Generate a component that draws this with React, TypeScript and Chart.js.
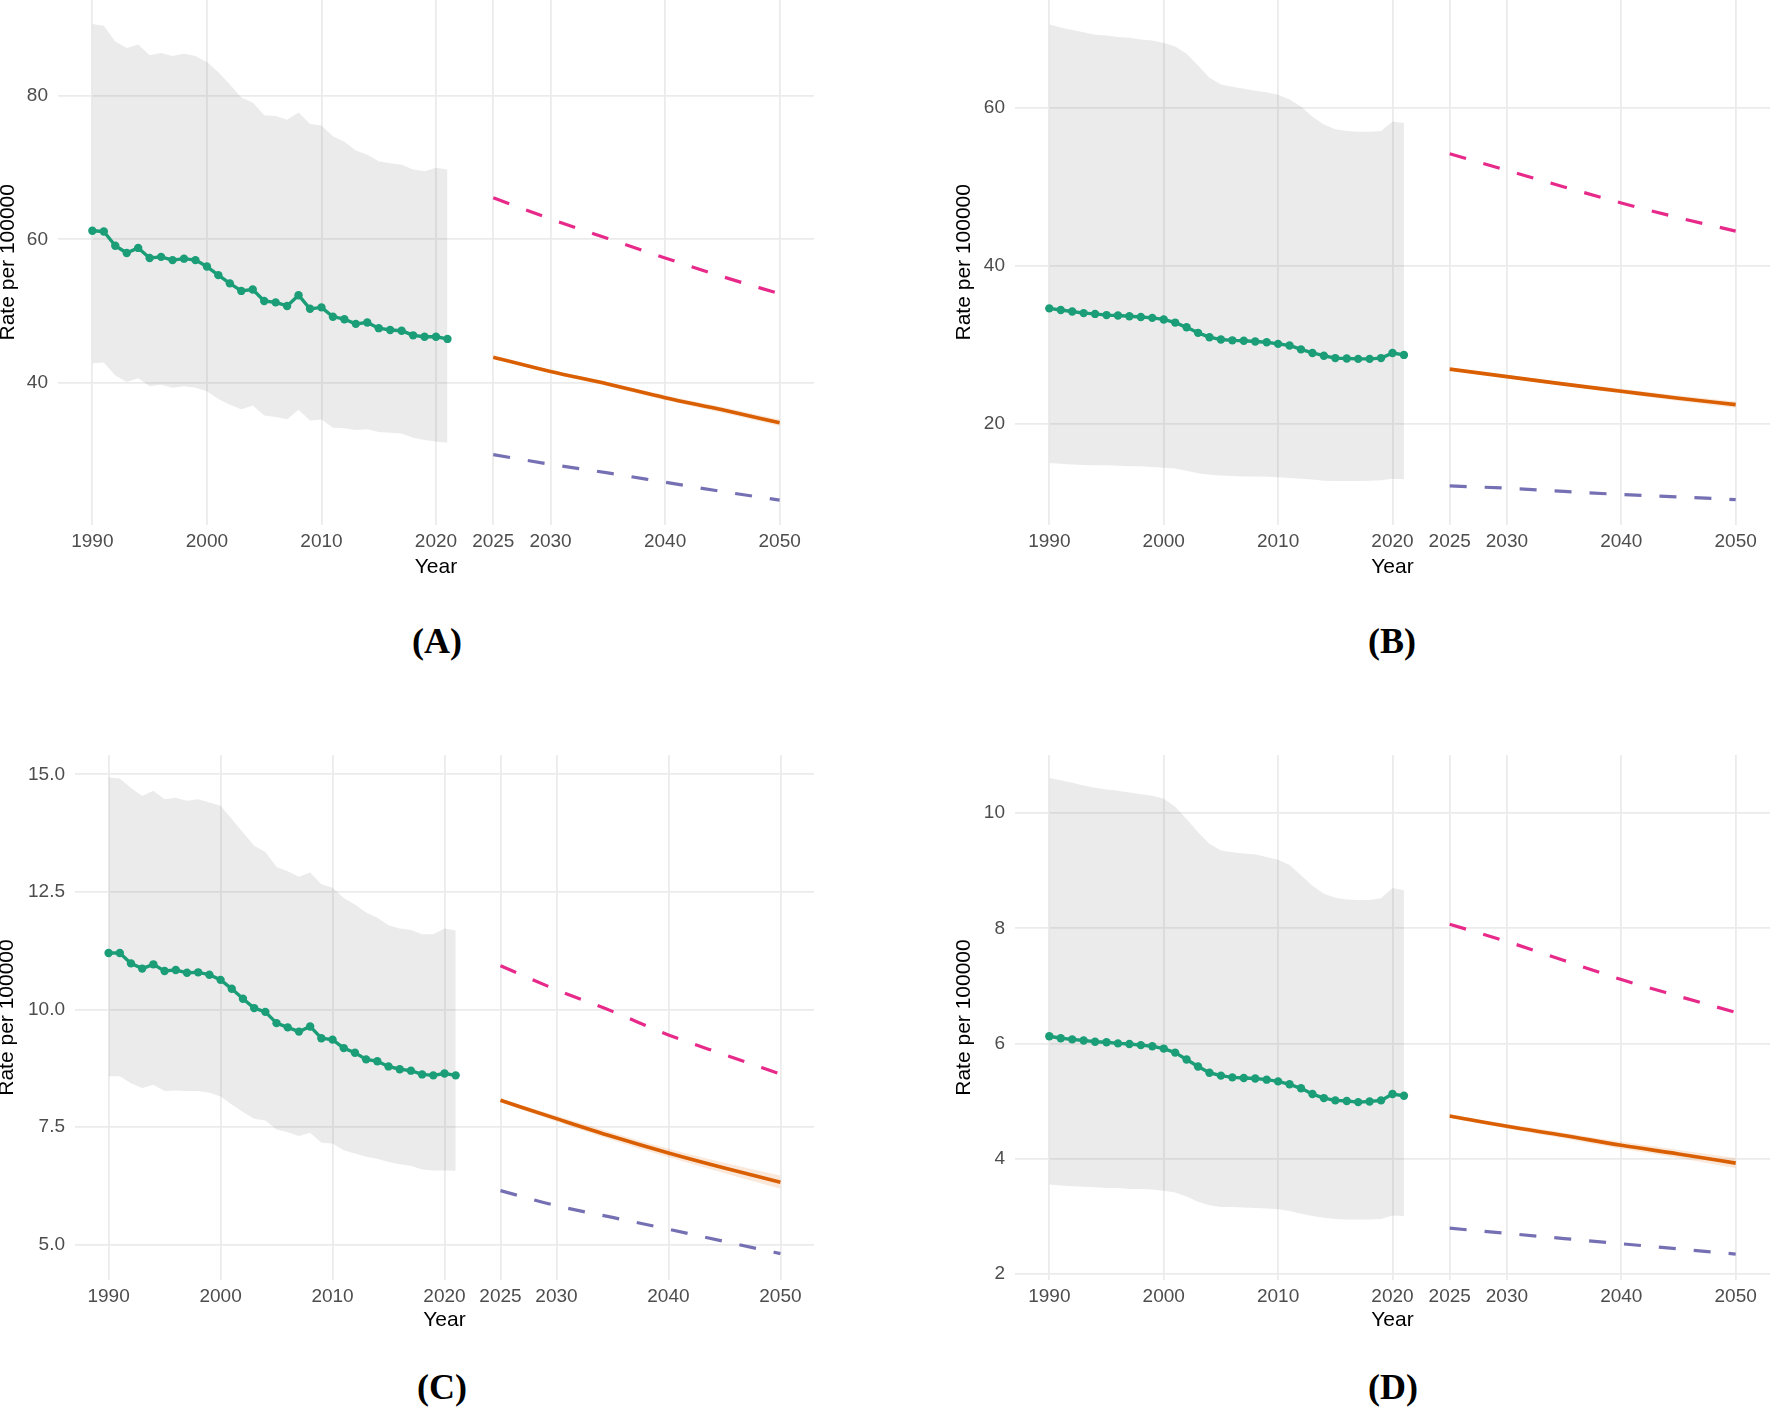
import React, { useEffect, useRef } from 'react';
import { Chart, registerables } from 'chart.js';

Chart.register(...registerables);

// ---------- shared categories ----------
const histYears = [1990, 1991, 1992, 1993, 1994, 1995, 1996, 1997, 1998, 1999, 2000, 2001, 2002, 2003, 2004, 2005, 2006, 2007, 2008, 2009, 2010, 2011, 2012, 2013, 2014, 2015, 2016, 2017, 2018, 2019, 2020, 2021];
const projYears = [2025, 2030, 2035, 2040, 2045, 2050];
const xTickYears = [1990, 2000, 2010, 2020, 2025, 2030, 2040, 2050];

// ---------- panel A ----------
const aRate = [61.2, 61.1, 59.1, 58.1, 58.8, 57.4, 57.55, 57.1, 57.3, 57.1, 56.2, 55.0, 53.85, 52.8, 53.0, 51.4, 51.2, 50.7, 52.2, 50.3, 50.5, 49.2, 48.85, 48.2, 48.4, 47.6, 47.35, 47.25, 46.6, 46.4, 46.4, 46.1];
const aUpper = [90.05, 89.8, 87.6, 86.7, 87.2, 85.7, 86.0, 85.6, 85.9, 85.6, 84.75, 83.3, 81.6, 79.8, 79.1, 77.3, 77.2, 76.7, 77.7, 76.1, 75.9, 74.4, 73.6, 72.4, 71.8, 70.9, 70.6, 70.4, 69.75, 69.5, 70.0, 69.75];
const aLower = [42.7, 42.8, 41.0, 40.1, 40.6, 39.5, 39.7, 39.3, 39.5, 39.3, 38.8, 37.7, 36.9, 36.3, 36.8, 35.4, 35.2, 34.9, 36.2, 34.7, 34.85, 33.7, 33.65, 33.4, 33.5, 33.1, 33.0, 32.9, 32.3, 32.0, 31.8, 31.6];
const aProj = [43.55, 41.55, 39.8, 37.9, 36.2, 34.4];
const aProjLo = [43.45, 41.35, 39.5, 37.55, 35.8, 33.95];
const aProjHi = [43.65, 41.75, 40.1, 38.25, 36.6, 34.85];
const aHigh = [65.8, 62.85, 60.1, 57.4, 54.8, 52.4];
const aLow = [29.95, 28.6, 27.4, 26.1, 24.8, 23.6];
const aYTicks = [40, 60, 80];

// ---------- panel B ----------
const bRate = [34.6, 34.4, 34.2, 34.0, 33.9, 33.75, 33.7, 33.6, 33.5, 33.4, 33.2, 32.8, 32.2, 31.5, 30.95, 30.65, 30.55, 30.5, 30.4, 30.3, 30.1, 29.9, 29.4, 28.95, 28.6, 28.3, 28.25, 28.2, 28.2, 28.3, 28.95, 28.7];
const bUpper = [70.6, 70.2, 69.9, 69.6, 69.3, 69.2, 69.0, 68.9, 68.7, 68.55, 68.25, 67.8, 66.9, 65.4, 63.85, 63.0, 62.7, 62.45, 62.2, 62.0, 61.7, 61.1, 60.2, 58.9, 57.9, 57.3, 57.1, 57.0, 57.0, 57.1, 58.3, 58.1];
const bLower = [15.0, 14.9, 14.8, 14.75, 14.7, 14.7, 14.65, 14.6, 14.6, 14.5, 14.4, 14.3, 14.0, 13.7, 13.5, 13.4, 13.35, 13.3, 13.3, 13.25, 13.2, 13.1, 13.0, 12.9, 12.75, 12.7, 12.7, 12.7, 12.75, 12.8, 13.0, 12.95];
const bProj = [26.9, 25.95, 25.0, 24.1, 23.2, 22.4];
const bProjLo = [26.8, 25.75, 24.75, 23.8, 22.85, 22.0];
const bProjHi = [27.0, 26.15, 25.25, 24.4, 23.55, 22.8];
const bHigh = [54.2, 52.1, 50.0, 47.97, 46.1, 44.4];
const bLow = [12.1, 11.8, 11.4, 11.0, 10.7, 10.35];
const bYTicks = [20, 40, 60];

// ---------- panel C ----------
const cRate = [11.2, 11.2, 10.98, 10.87, 10.96, 10.82, 10.84, 10.78, 10.79, 10.74, 10.63, 10.44, 10.23, 10.03, 9.95, 9.71, 9.62, 9.53, 9.64, 9.39, 9.36, 9.18, 9.08, 8.94, 8.9, 8.79, 8.73, 8.7, 8.62, 8.6, 8.64, 8.6];
const cUpper = [14.93, 14.91, 14.71, 14.54, 14.65, 14.47, 14.5, 14.44, 14.47, 14.4, 14.33, 14.05, 13.76, 13.48, 13.35, 13.03, 12.94, 12.82, 12.91, 12.66, 12.59, 12.37, 12.23, 12.06, 11.95, 11.79, 11.72, 11.69, 11.6, 11.6, 11.72, 11.68];
const cLower = [8.58, 8.58, 8.43, 8.33, 8.4, 8.27, 8.28, 8.27, 8.27, 8.23, 8.15, 7.98, 7.82, 7.68, 7.64, 7.45, 7.39, 7.31, 7.38, 7.17, 7.15, 7.01, 6.94, 6.87, 6.83, 6.76, 6.71, 6.68, 6.6, 6.58, 6.58, 6.57];
const cProj = [8.07, 7.68, 7.3, 6.95, 6.63, 6.33];
const cProjLo = [8.03, 7.62, 7.22, 6.86, 6.52, 6.19];
const cProjHi = [8.11, 7.74, 7.38, 7.04, 6.74, 6.47];
const cHigh = [10.93, 10.42, 9.96, 9.46, 9.04, 8.63];
const cLow = [6.15, 5.83, 5.58, 5.33, 5.07, 4.81];
const cYTicks = [5.0, 7.5, 10.0, 12.5, 15.0];

// ---------- panel D ----------
const dRate = [6.125, 6.09, 6.07, 6.05, 6.03, 6.02, 6.0, 5.99, 5.97, 5.95, 5.91, 5.84, 5.72, 5.6, 5.49, 5.44, 5.41, 5.4, 5.39, 5.37, 5.34, 5.29, 5.22, 5.12, 5.05, 5.01, 5.0, 4.98, 4.99, 5.01, 5.12, 5.09];
const dUpper = [10.61, 10.57, 10.53, 10.48, 10.44, 10.41, 10.39, 10.36, 10.33, 10.3, 10.25, 10.11, 9.9, 9.67, 9.47, 9.35, 9.32, 9.3, 9.28, 9.24, 9.19, 9.1, 8.92, 8.74, 8.6, 8.53, 8.5, 8.49, 8.49, 8.52, 8.7, 8.66];
const dLower = [3.55, 3.53, 3.52, 3.51, 3.5, 3.49, 3.49, 3.47, 3.47, 3.46, 3.44, 3.41, 3.34, 3.25, 3.19, 3.16, 3.16, 3.15, 3.14, 3.13, 3.12, 3.09, 3.04, 3.0, 2.97, 2.95, 2.94, 2.94, 2.94, 2.95, 3.01, 3.0];
const dProj = [4.74, 4.56, 4.4, 4.23, 4.08, 3.92];
const dProjLo = [4.71, 4.52, 4.35, 4.17, 4.01, 3.83];
const dProjHi = [4.77, 4.6, 4.45, 4.29, 4.15, 4.01];
const dHigh = [8.07, 7.77, 7.44, 7.11, 6.82, 6.54];
const dLow = [2.79, 2.7, 2.61, 2.52, 2.43, 2.34];
const dYTicks = [2, 4, 6, 8, 10];

const GREEN = '#1B9E77';
const ORANGE = '#D95F02';
const PURPLE = '#7570B3';
const PINK = '#E7298A';
const GRID = '#EBEBEB';
const SANS = '"Liberation Sans", Arial, sans-serif';

type PanelDef = {
  rate: number[]; upper: number[]; lower: number[];
  proj: number[]; projLo: number[]; projHi: number[];
  high: number[]; low: number[];
  yTicks: number[]; yMin: number; yMax: number; decimals: number; label: string;
};

type Geo = {
  left: number; top: number; width: number; height: number;
  yAxisW: number; xAxisH: number; labelX: number; labelY: number;
};

const panels: { def: PanelDef; geo: Geo }[] = [
  {
    def: { rate: aRate, upper: aUpper, lower: aLower, proj: aProj, projLo: aProjLo, projHi: aProjHi, high: aHigh, low: aLow, yTicks: aYTicks, yMin: 20.2, yMax: 93.4, decimals: 0, label: '(A)' },
    geo: { left: -4, top: 0, width: 818, height: 580, yAxisW: 62, xAxisH: 55.5, labelX: 437, labelY: 642 },
  },
  {
    def: { rate: bRate, upper: bUpper, lower: bLower, proj: bProj, projLo: bProjLo, projHi: bProjHi, high: bHigh, low: bLow, yTicks: bYTicks, yMin: 7.2, yMax: 73.7, decimals: 0, label: '(B)' },
    geo: { left: 952, top: 0, width: 818, height: 580, yAxisW: 63, xAxisH: 55.5, labelX: 1392, labelY: 642 },
  },
  {
    def: { rate: cRate, upper: cUpper, lower: cLower, proj: cProj, projLo: cProjLo, projHi: cProjHi, high: cHigh, low: cLow, yTicks: cYTicks, yMin: 4.25, yMax: 15.41, decimals: 1, label: '(C)' },
    geo: { left: -5, top: 755, width: 819, height: 578, yAxisW: 80, xAxisH: 53, labelX: 442, labelY: 1388 },
  },
  {
    def: { rate: dRate, upper: dUpper, lower: dLower, proj: dProj, projLo: dProjLo, projHi: dProjHi, high: dHigh, low: dLow, yTicks: dYTicks, yMin: 1.89, yMax: 11.01, decimals: 0, label: '(D)' },
    geo: { left: 952, top: 755, width: 818, height: 578, yAxisW: 63, xAxisH: 53, labelX: 1393, labelY: 1388 },
  },
];

function pts(xs: number[], ys: number[]) {
  return xs.map((x, i) => ({ x, y: ys[i] }));
}

function Panel({ def, geo }: { def: PanelDef; geo: Geo }) {
  const ref = useRef<HTMLCanvasElement>(null);

  useEffect(() => {
    if (!ref.current) return;
    const dash = [17, 18];
    const chart = new Chart(ref.current, {
      type: 'line',
      data: {
        datasets: [
          {
            data: pts(histYears, def.rate),
            borderColor: GREEN, backgroundColor: GREEN, borderWidth: 3.4,
            pointRadius: 4.2, pointBorderWidth: 0, pointBackgroundColor: GREEN,
            borderJoinStyle: 'round', fill: false,
          },
          {
            data: pts(projYears, def.high),
            borderColor: PINK, borderWidth: 3.2, borderDash: dash, pointRadius: 0,
            cubicInterpolationMode: 'monotone', fill: false,
          },
          {
            data: pts(projYears, def.low),
            borderColor: PURPLE, borderWidth: 3.2, borderDash: dash, pointRadius: 0,
            cubicInterpolationMode: 'monotone', fill: false,
          },
          {
            data: pts(projYears, def.proj),
            borderColor: ORANGE, borderWidth: 3.6, pointRadius: 0,
            cubicInterpolationMode: 'monotone', fill: false,
          },
          {
            data: pts(projYears, def.projHi),
            borderWidth: 0, borderColor: 'rgba(0,0,0,0)', pointRadius: 0,
            cubicInterpolationMode: 'monotone',
            backgroundColor: 'rgba(217,95,2,0.14)', fill: 5,
          },
          {
            data: pts(projYears, def.projLo),
            borderWidth: 0, borderColor: 'rgba(0,0,0,0)', pointRadius: 0,
            cubicInterpolationMode: 'monotone', fill: false,
          },
          {
            data: pts(histYears, def.upper),
            borderWidth: 0, borderColor: 'rgba(0,0,0,0)', pointRadius: 0,
            backgroundColor: 'rgba(128,128,128,0.155)', fill: 7,
          },
          {
            data: pts(histYears, def.lower),
            borderWidth: 0, borderColor: 'rgba(0,0,0,0)', pointRadius: 0, fill: false,
          },
        ],
      },
      options: {
        animation: false,
        responsive: false,
        devicePixelRatio: 1,
        layout: { padding: 0, autoPadding: false },
        plugins: { legend: { display: false }, tooltip: { enabled: false }, title: { display: false } },
        events: [],
        scales: {
          x: {
            type: 'linear',
            min: 1987,
            max: 2053,
            afterBuildTicks: (s: any) => { s.ticks = xTickYears.map((v) => ({ value: v })); },
            afterFit: (s: any) => { s.height = geo.xAxisH; s.paddingLeft = 0; s.paddingRight = 0; },
            ticks: {
              autoSkip: false, maxRotation: 0, minRotation: 0, padding: 5.5,
              color: '#4D4D4D', font: { family: SANS, size: 19, lineHeight: 1.2 },
              callback: (v: any) => String(v),
            },
            grid: { color: GRID, lineWidth: 1.8, drawTicks: false },
            border: { display: false },
            title: { display: true, text: 'Year', color: '#000', padding: 0, font: { family: SANS, size: 21, lineHeight: 1.2 } },
          },
          y: {
            type: 'linear',
            min: def.yMin,
            max: def.yMax,
            afterBuildTicks: (s: any) => { s.ticks = def.yTicks.map((v) => ({ value: v })); },
            afterFit: (s: any) => { s.width = geo.yAxisW; s.paddingTop = 0; s.paddingBottom = 0; },
            ticks: {
              padding: 10, color: '#4D4D4D', font: { family: SANS, size: 19, lineHeight: 1.2 },
              callback: (v: any) => Number(v).toFixed(def.decimals),
            },
            grid: { color: GRID, lineWidth: 1.8, drawTicks: false },
            border: { display: false },
            title: { display: true, text: 'Rate per 100000', color: '#000', padding: 0, font: { family: SANS, size: 21, lineHeight: 1.2 } },
          },
        },
      } as any,
    });
    return () => chart.destroy();
  }, []);

  return (
    <>
      <canvas
        ref={ref}
        width={geo.width}
        height={geo.height}
        style={{ position: 'absolute', left: geo.left, top: geo.top, width: geo.width, height: geo.height }}
      />
      <div
        style={{
          position: 'absolute', left: geo.labelX - 60, top: geo.labelY - 22, width: 120, height: 44,
          lineHeight: '44px', textAlign: 'center', color: '#000',
          font: 'bold 36px "Liberation Serif", "Times New Roman", serif',
        }}
      >
        {def.label}
      </div>
    </>
  );
}

export default function App() {
  return (
    <div style={{ position: 'absolute', left: 0, top: 0, width: 1772, height: 1408, background: '#fff', overflow: 'hidden' }}>
      {panels.map((p, i) => (
        <Panel key={i} def={p.def} geo={p.geo} />
      ))}
    </div>
  );
}
